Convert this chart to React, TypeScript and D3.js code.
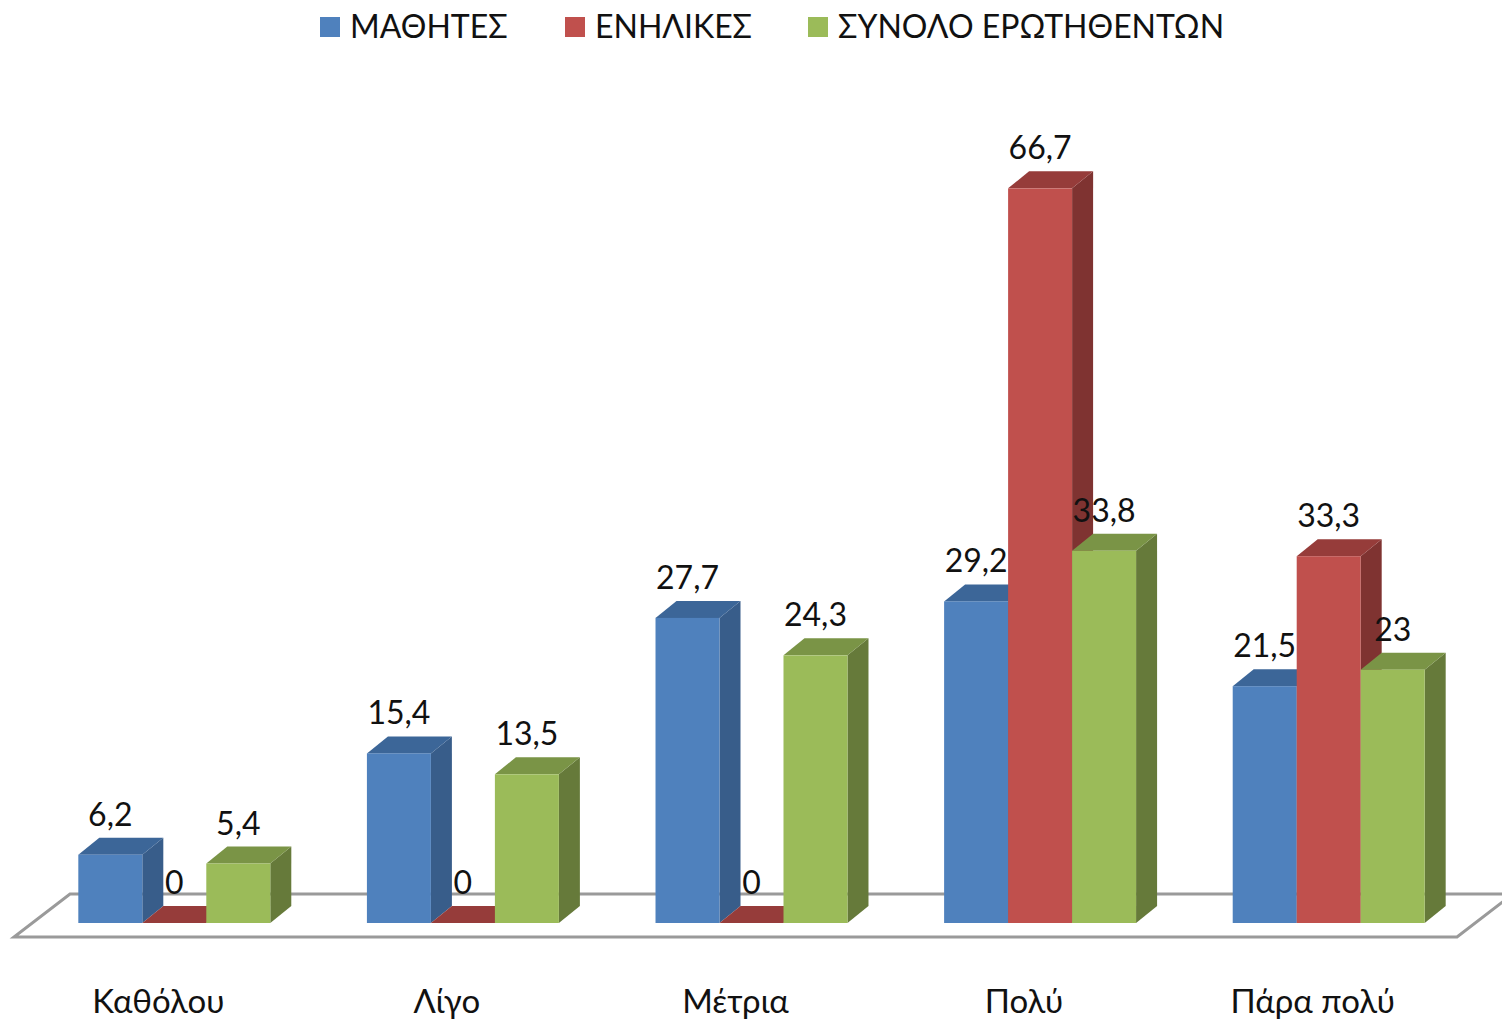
import React from 'react';
import * as d3 from 'd3';

const categories = ['Καθόλου', 'Λίγο', 'Μέτρια', 'Πολύ', 'Πάρα πολύ'];
const seriesNames = ['ΜΑΘΗΤΕΣ', 'ΕΝΗΛΙΚΕΣ', 'ΣΥΝΟΛΟ ΕΡΩΤΗΘΕΝΤΩΝ'];
const mathites = [6.2, 15.4, 27.7, 29.2, 21.5];
const enilikes = [0, 0, 0, 66.7, 33.3];
const synolo = [5.4, 13.5, 24.3, 33.8, 23];

const seriesValues = [mathites, enilikes, synolo];

// front / side / top shades for each series
const colors = [
  { front: '#4F81BD', side: '#385D8A', top: '#3C6698' },
  { front: '#C0504D', side: '#7F3331', top: '#963C3A' },
  { front: '#9BBB59', side: '#667A3A', top: '#7A9446' },
];

const width = 1502;
const height = 1020;
const font = "Lato, 'Open Sans', sans-serif";

// floor geometry
const floor = { left: 14, right: 1457, y: 937, dx: 56, dy: -43 };
// bars sit partway back on the floor
const barOffset = { dx: 16, dy: -14 };
const depth = { dx: 21, dy: -17 };

const fmt = (v: number) => String(v).replace('.', ',');

export default function App() {
  const x0 = d3.scaleBand<string>().domain(categories).range([floor.left, floor.right]);
  const x1 = d3
    .scaleBand<string>()
    .domain(seriesNames)
    .range([0, x0.bandwidth()])
    .paddingOuter(0.755);
  const y = d3.scaleLinear().domain([0, 70]).range([0, 771]);

  const base = floor.y + barOffset.dy;
  const w = x1.bandwidth();

  const floorPts = [
    [floor.left, floor.y],
    [floor.right, floor.y],
    [floor.right + floor.dx, floor.y + floor.dy],
    [floor.left + floor.dx, floor.y + floor.dy],
  ]
    .map((p) => p.join(','))
    .join(' ');

  const legendX = [320, 565, 808];

  return (
    <svg
      width={width}
      height={height}
      style={{ position: 'absolute', left: 0, top: 0, background: '#fff' }}
    >
      <polygon points={floorPts} fill="#fff" stroke="#9a9a9a" strokeWidth={3} />

      {categories.map((cat, i) => (
        <g key={cat}>
          {seriesNames.map((s, j) => {
            const v = seriesValues[j][i];
            const h = y(v);
            const fx = (x0(cat) as number) + barOffset.dx + (x1(s) as number);
            const top = base - h;
            const c = colors[j];
            const topPts = [
              [fx, top],
              [fx + depth.dx, top + depth.dy],
              [fx + w + depth.dx, top + depth.dy],
              [fx + w, top],
            ]
              .map((p) => p.join(','))
              .join(' ');
            const sidePts = [
              [fx + w, top],
              [fx + w + depth.dx, top + depth.dy],
              [fx + w + depth.dx, base + depth.dy],
              [fx + w, base],
            ]
              .map((p) => p.join(','))
              .join(' ');
            return (
              <g key={s}>
                <polygon points={sidePts} fill={c.side} />
                <polygon points={topPts} fill={c.top} />
                {h > 0 && <rect x={fx} y={top} width={w} height={h} fill={c.front} />}
              </g>
            );
          })}
        </g>
      ))}

      {categories.map((cat, i) =>
        seriesNames.map((s, j) => {
          const v = seriesValues[j][i];
          const fx = (x0(cat) as number) + barOffset.dx + (x1(s) as number);
          const top = base - y(v);
          return (
            <text
              key={cat + s}
              x={fx + w / 2}
              y={top + depth.dy - 12}
              textAnchor="middle"
              fontFamily={font}
              fontSize={32}
              fill="#111"
            >
              {fmt(v)}
            </text>
          );
        })
      )}

      {categories.map((cat) => (
        <text
          key={cat}
          x={(x0(cat) as number) + x0.bandwidth() / 2}
          y={1013}
          textAnchor="middle"
          fontFamily={font}
          fontSize={33}
          fill="#111"
        >
          {cat}
        </text>
      ))}

      {seriesNames.map((s, j) => (
        <g key={s} transform={`translate(${legendX[j]},0)`}>
          <rect x={0} y={17} width={20} height={20} fill={colors[j].front} />
          <text x={30} y={38} fontFamily={font} fontSize={32} fill="#111">
            {s}
          </text>
        </g>
      ))}
    </svg>
  );
}
